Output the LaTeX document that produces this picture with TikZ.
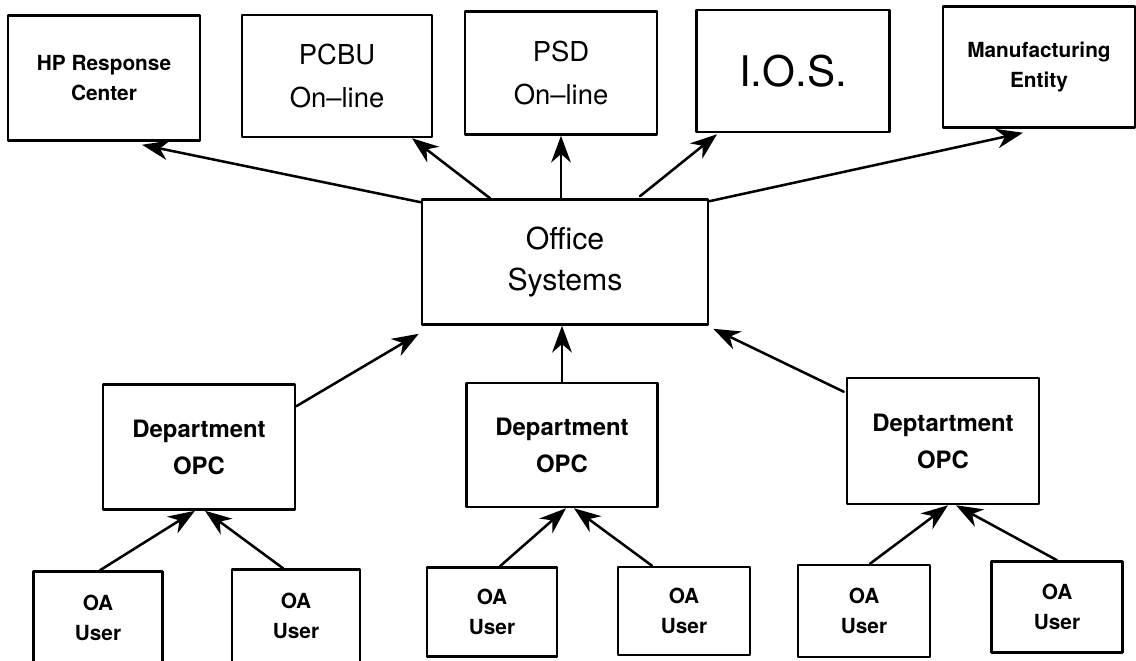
\documentclass[tikz,border=0pt]{standalone}
\usepackage{fontspec}
\setmainfont{TeX Gyre Heros}
\usepackage{tikz}
\usetikzlibrary{arrows.meta,calc}
\tikzset{
    box/.style={draw,line width=1.8pt,align=center,inner sep=0pt},
    link/.style={line width=1.8pt,-{Stealth[length=19pt,width=14pt,inset=6pt]}},
    smallbf/.style={font=\fontsize{14.8}{21.5}\selectfont\bfseries},
    largerm/.style={font=\fontsize{19.5}{30}\selectfont},
}
\begin{document}
\begin{tikzpicture}[line cap=round,line join=round,x=0.025cm,y=-0.025cm]
                \useasboundingbox (0,0) rectangle (1136,660);
                % top row
                \node[box,smallbf,minimum width=192*0.025cm,minimum height=125*0.025cm] (hp) at (104,78) {HP Response\\Center};
                \node[box,largerm,minimum width=190*0.025cm,minimum height=122*0.025cm] (pcbu) at (337,76) {PCBU\\On--line};
                \node[box,largerm,minimum width=192*0.025cm,minimum height=123*0.025cm] (psd) at (561,73) {PSD\\On--line};
                \node[box,font=\fontsize{30}{36}\selectfont,minimum width=193*0.025cm,minimum height=122*0.025cm] (ios) at (793,71) {I.O.S.};
                \node[box,smallbf,minimum width=192*0.025cm,minimum height=121*0.025cm] (mfg) at (1039,67) {Manufacturing\\Entity};
                % centre
                \node[box,font=\fontsize{21.5}{28.5}\selectfont,minimum width=286*0.025cm,minimum height=125*0.025cm] (office) at (565,262) {Office\\Systems};
                % departments
                \node[box,font=\fontsize{17}{26.3}\selectfont\bfseries,minimum width=192*0.025cm,minimum height=125*0.025cm] (dept1) at (199,447) {Department\\OPC};
                \node[box,font=\fontsize{17}{26.3}\selectfont\bfseries,minimum width=191*0.025cm,minimum height=124*0.025cm] (dept2) at (562,445) {Department\\OPC};
                \node[box,font=\fontsize{17}{26.3}\selectfont\bfseries,minimum width=192*0.025cm,minimum height=126*0.025cm] (dept3) at (943,441) {Deptartment\\OPC};
                % users
                \node[box,smallbf,minimum width=129*0.025cm,minimum height=93*0.025cm] (user1) at (98,618) {OA\\User};
                \node[box,smallbf,minimum width=128*0.025cm,minimum height=93*0.025cm] (user2) at (296,616) {OA\\User};
                \node[box,smallbf,minimum width=130*0.025cm,minimum height=89*0.025cm] (user3) at (492,612) {OA\\User};
                \node[box,smallbf,minimum width=132*0.025cm,minimum height=88*0.025cm] (user4) at (684,611) {OA\\User};
                \node[box,smallbf,minimum width=132*0.025cm,minimum height=92*0.025cm] (user5) at (864,611) {OA\\User};
                \node[box,smallbf,minimum width=131*0.025cm,minimum height=91*0.025cm] (user6) at (1057,607) {OA\\User};
                % office to the top row
                \draw [link] ($(office.north west)+(0,4)$) -- ($(hp.south)+(38,3)$);
                \draw [link] ($(office.north)+(-75,0)$) -- ($(pcbu.south)+(75,0)$);
                \draw [link] (psd.south |- office.north) -- (psd.south);
                \draw [link] ($(office.north)+(75,-2)$) -- ($(ios.south)+(-76,1)$);
                \draw [link] ($(office.north east)+(0,3)$) -- ($(mfg.south)+(-16,4)$);
                % departments to office
                \draw [link] ($(dept1.north east)+(0,23)$) -- ($(office.south west)+(-2,8)$);
                \draw [link] (dept2.north) -- (dept2.north |- office.south);
                \draw [link] ($(dept3.north west)+(-2,15)$) -- ($(office.south east)+(4,3)$);
                % users to departments
                \draw [link] ($(user1.north)+(2,0)$) -- ($(dept1.south)+(-4,0)$);
                \draw [link] ($(user2.north)+(-13,0)$) -- ($(dept1.south)+(6,0)$);
                \draw [link] ($(user3.north)+(8,0)$) -- ($(dept2.south)+(4,0)$);
                \draw [link] ($(user4.north)+(-32,0)$) -- ($(dept2.south)+(12,0)$);
                \draw [link] ($(user5.north)+(6,0)$) -- ($(dept3.south)+(5,0)$);
                \draw [link] ($(user6.north)+(0,0)$) -- ($(dept3.south)+(13,0)$);
\end{tikzpicture}
\end{document}
